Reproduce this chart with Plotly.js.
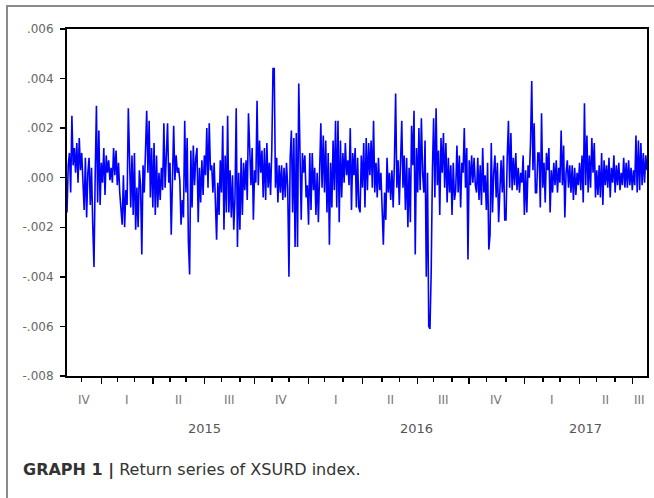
<!DOCTYPE html>
<html>
<head>
<meta charset="utf-8">
<script src="https://cdn.plot.ly/plotly-3.0.1.min.js"></script>
<style>
  html, body { margin: 0; padding: 0; background: #ffffff; }
  #wrap { position: relative; width: 654px; height: 498px; }
  #chart { position: absolute; left: 0; top: 0; width: 654px; height: 498px; }
  #frame { position: absolute; left: 6px; top: 5px; width: 660px; height: 510px;
           border-top: 2px solid #8a8a8a; border-left: 2px solid #8a8a8a; pointer-events: none; }
</style>
</head>
<body>
<div id="wrap">
  <div id="chart"></div>
  <div id="frame"></div>
</div>
<script>
const returnsXSURD = [
  -0.0014, 0.0005, 0.0010, -0.0006, 0.0025,
  0.0005, 0.0012, 0.0002, 0.0014, -0.0002,
  0.0016, 0.0003, 0.0010, -0.0003,
  -0.0013, 0.0008, -0.0016, 0.0002,
  0.0008, -0.0011, 0.0004, -0.0019,
  -0.0036,
  0.0001, 0.0029, -0.0010,
  0.0019, -0.0011, 0.0006, -0.0002,
  0.0012, -0.0007, 0.0009, 0.0002,
  0.0007, -0.0001, 0.0004, -0.0002,
  0.0012, 0.0001, 0.0011, -0.0003,
  0.0006, -0.0006, -0.0015, -0.0019,
  0.0001, -0.0020, -0.0005, -0.0011,
  0.0028, 0.0004,
  -0.0012, 0.0009, -0.0015, 0.0010,
  -0.0021, -0.0004, -0.0020, 0.0003,
  -0.0003, -0.0031, 0.0005, -0.0006,
  0.0016, 0.0027, 0.0002, 0.0023,
  -0.0008, 0.0012, -0.0012, 0.0014,
  -0.0015, 0.0009, -0.0012, 0.0002,
  -0.0009, 0.0004, -0.0005, 0.0022, -0.0004,
  0.0008, 0.0022, -0.0002, 0.0006,
  -0.0023, 0.0003, 0.0021, -0.0001,
  0.0009, 0.0002, 0.0004, -0.0001,
  -0.0019, -0.0009, -0.0016, 0.0023,
  -0.0006, 0.0016, -0.0026, -0.0039,
  0.0011, -0.0012, 0.0013, -0.0003, 0.0008,
  0.0012, -0.0018, 0.0004, -0.0010,
  0.0007, -0.0007, 0.0009, 0.0001,
  0.0020, -0.0004, 0.0022, 0.0003,

  0.0005, -0.0006, 0.0006, -0.0009,
  -0.0025,
  -0.0002, -0.0015, 0.0007, -0.0006,
  0.0021,
  -0.0021,
  0.0009, -0.0014,
  0.0025,
  -0.0014, 0.0003, -0.0016, 0.0001,
  -0.0021, -0.0008, 0.0028, -0.0028,
  0.0002, -0.0021, 0.0008, -0.0015,
  0.0006, -0.0005, 0.0007, -0.0009, 0.0026,
  0.0012, -0.0003, 0.0012, -0.0017,
  0.0003, -0.0002, 0.0031,
  -0.0003, 0.0015, 0.0002, 0.0011,
  -0.0008, 0.0012, -0.0009, 0.0014,
  -0.0004, 0.0006, -0.0007, 0.0011,
  0.0044, 0.0044, -0.0004,
  0.0008, -0.0010, 0.0005, -0.0006,
  0.0005, -0.0009, 0.0004, -0.0008,
  0.0006, -0.0004, -0.0040, 0.0008,
  0.0019, -0.0014, 0.0016,
  -0.0028, 0.0018, -0.0028,
  0.0038, 0.0012, -0.0017, 0.0010,
  0.0002, 0.0009, -0.0008, -0.0003,
  -0.0019, 0.0010, -0.0013, 0.0010,
  -0.0005, 0.0004, -0.0015, 0.0002,
  -0.0018, 0.0002, 0.0022, -0.0004,
  0.0017, -0.0006, 0.0015, -0.0014,
  0.0010, -0.0027, 0.0006, -0.0012,
  0.0015, -0.0005, 0.0023, -0.0012,
  0.0023, -0.0018, 0.0015, -0.0008,
  0.0010, -0.0002, 0.0014, 0.0001,
  0.0007, -0.0003, 0.0020, -0.0013,
  0.0010, 0.0001, 0.0012, -0.0012,
  0.0008, -0.0012,

  -0.0014, 0.0009, -0.0004, 0.0014,
  -0.0012, 0.0016, -0.0005, 0.0014,
  0.0001, 0.0015, -0.0004, 0.0023,
  -0.0006, 0.0006, -0.0008, 0.0008,
  -0.0005, 0.0002, -0.0010, -0.0027,
  -0.0006, -0.0017, 0.0008,
  -0.0006, 0.0002, -0.0009, 0.0003,
  -0.0012, 0.0006, 0.0034,
  -0.0004, 0.0007, -0.0011, 0.0005,
  0.0023, -0.0004, 0.0009, -0.0013,
  0.0008, -0.0020, 0.0004, -0.0018,
  0.0021, 0.0005, 0.0027, -0.0031,
  0.0012, -0.0006, 0.0020, -0.0005,
  0.0024, 0.0002, -0.0006, 0.0015,
  -0.0040, 0.0002, -0.0060, -0.0061, -0.0038, 0.0003,
  0.0024, -0.0008, 0.0028, -0.0003,
  0.0011, -0.0015, 0.0016, 0.0002,
  0.0018, -0.0004, 0.0014, -0.0010,
  0.0008, -0.0006, 0.0005, -0.0015,
  0.0006, -0.0009, -0.0005,
  0.0013, -0.0006, 0.0009, -0.0012,
  0.0006, 0.0002, 0.0020, -0.0004,
  0.0012, -0.0033, 0.0007, -0.0003,
  0.0009, -0.0002, 0.0008, -0.0003,
  -0.0006, 0.0008, -0.0009,
  0.0005, -0.0011, 0.0012, -0.0006,
  0.0001, -0.0013, 0.0006, -0.0029,
  -0.0023, 0.0014, -0.0014, 0.0002,
  0.0009, -0.0008, 0.0006, -0.0018,
  -0.0003, 0.0007, -0.0006,
  0.0009, -0.0017,

  -0.0017, 0.0008, 0.0023, -0.0004,
  0.0018, -0.0005, 0.0008, -0.0003, 0.0010,
  -0.0005, 0.0004, -0.0006, 0.0002,
  -0.0002, 0.0009, -0.0015, 0.0003,
  -0.0014, 0.0005, 0.0000, 0.0014,
  0.0039,
  0.0003, 0.0022, -0.0006, -0.0006,
  0.0010, 0.0010, -0.0012, 0.0026,
  -0.0004, 0.0006, -0.0010, 0.0010,
  0.0003, 0.0012, -0.0014, 0.0003,
  -0.0006, 0.0006, -0.0003, 0.0007,
  -0.0006, 0.0004, -0.0002, 0.0019,
  -0.0003, 0.0013, -0.0016, 0.0002,
  0.0007, -0.0004, 0.0005, -0.0006,
  0.0005, -0.0009, 0.0004, -0.0007,
  0.0002, -0.0003, 0.0006, -0.0005,
  0.0009, -0.0010, 0.0030, -0.0003,
  0.0017, -0.0006, 0.0009, -0.0004,
  0.0016, 0.0002, 0.0014, -0.0008,
  0.0003, -0.0007, 0.0005, -0.0008,
  0.0010, -0.0011, 0.0007, -0.0003,
  0.0005, -0.0004, 0.0008, -0.0008,
  0.0004, -0.0002, 0.0009, -0.0006,
  0.0005, -0.0003, 0.0006, -0.0005,
  0.0002, -0.0003, 0.0008, -0.0004,
  0.0006, -0.0004, 0.0007, -0.0003,
  0.0004, -0.0005, 0.0003, -0.0003,
  0.0017, -0.0006, 0.0015, -0.0005,
  0.0014, -0.0003, 0.0010, -0.0002,
  0.0009, 0.0003
];

// Observation numbers at which each calendar month starts (Dec 2014 ... Jul 2017)
const monthStartObs = [12, 28, 41, 55, 70, 84, 97, 112, 126, 141, 153, 167, 181,
                       197, 210, 225, 241, 257, 271, 286, 299, 314, 328, 342, 358,
                       373, 388, 402, 418, 432, 447, 461];
// Observation numbers at which each quarter starts (Q1 2015 ... Q3 2017)
const quarterStartObs = [28, 70, 112, 153, 197, 241, 286, 328, 373, 418, 461];
// Quarter labels (first one is the partial Q4 2014)
const quarterLabels = ['IV', 'I', 'II', 'III', 'IV', 'I', 'II', 'III', 'IV', 'I', 'II', 'III'];
// Year labels and the observation where each year starts
const yearLabels = ['2015', '2016', '2017'];
const yearStartObs = [28, 197, 373];
// Y axis ticks
const yTickValues = [-0.008, -0.006, -0.004, -0.002, 0.000, 0.002, 0.004, 0.006];
const yTickLabels = ['-.008', '-.006', '-.004', '-.002', '.000', '.002', '.004', '.006'];
const captionBold = 'GRAPH 1 |';
const captionText = 'Return series of XSURD index.';

const nObs = returnsXSURD.length;
const obsIndex = returnsXSURD.map((_, i) => i);
const lastObs = nObs - 1;

const qBounds = [0].concat(quarterStartObs).concat([lastObs]);
const yBounds = yearStartObs.concat([lastObs]);

const axisFamily = 'DejaVu Sans, Verdana, sans-serif';

const annotations = [];
quarterLabels.forEach((lab, i) => {
  annotations.push({
    x: (qBounds[i] + qBounds[i + 1]) / 2, xref: 'x',
    y: 0, yref: 'paper', yshift: -24, yanchor: 'middle', xanchor: 'center',
    text: lab, showarrow: false,
    font: { family: axisFamily, size: 12, color: '#777777' }
  });
});
yearLabels.forEach((lab, i) => {
  annotations.push({
    x: (yBounds[i] + yBounds[i + 1]) / 2, xref: 'x',
    y: 0, yref: 'paper', yshift: -52, yanchor: 'middle', xanchor: 'center',
    text: lab, showarrow: false,
    font: { family: axisFamily, size: 13, color: '#555555' }
  });
});
annotations.push({
  x: -0.0793, xref: 'paper', xanchor: 'left',
  y: 0, yref: 'paper', yshift: -94, yanchor: 'middle',
  text: '<b>' + captionBold + '</b> ' + captionText,
  showarrow: false,
  font: { family: 'DejaVu Sans, Verdana, sans-serif', size: 16, color: '#333333' }
});

const trace = {
  type: 'scatter', mode: 'lines',
  x: obsIndex, y: returnsXSURD,
  line: { color: '#0000ff', width: 1.6 },
  hoverinfo: 'y'
};

const layout = {
  width: 654, height: 498,
  margin: { l: 67, r: 7, t: 29, b: 122, pad: 0 },
  paper_bgcolor: '#ffffff', plot_bgcolor: '#ffffff',
  showlegend: false,
  xaxis: {
    range: [0, lastObs],
    tickmode: 'array', tickvals: quarterStartObs,
    ticks: 'outside', ticklen: 6, tickwidth: 1.5, tickcolor: '#000000',
    showticklabels: false,
    minor: { tickmode: 'array', tickvals: monthStartObs, ticks: 'outside', ticklen: 4, tickwidth: 1.5, tickcolor: '#000000', showgrid: false },
    showline: true, linecolor: '#000000', linewidth: 2, mirror: true,
    showgrid: false, zeroline: false, fixedrange: true
  },
  yaxis: {
    range: [-0.008, 0.006],
    tickmode: 'array', tickvals: yTickValues, ticktext: yTickLabels,
    ticks: 'outside', ticklen: 5, tickwidth: 1.5, tickcolor: '#000000',
    ticklabelstandoff: 4,
    tickfont: { family: axisFamily, size: 12, color: '#666666' },
    showline: true, linecolor: '#000000', linewidth: 2, mirror: true,
    showgrid: false, zeroline: false, fixedrange: true
  },
  annotations: annotations
};

Plotly.newPlot('chart', [trace], layout, { displayModeBar: false, staticPlot: true });
</script>
</body>
</html>
